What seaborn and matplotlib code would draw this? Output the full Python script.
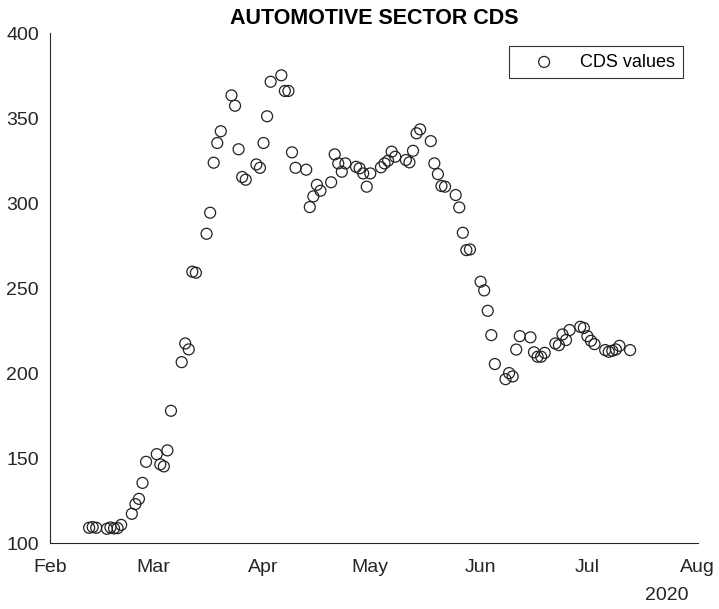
import numpy as np
import pandas as pd
import matplotlib
matplotlib.use("Agg")
import matplotlib.pyplot as plt
import matplotlib.dates as mdates
import seaborn as sns

# Daily (business-day) CDS quotes for the automotive sector, 2020
start_date = "2020-02-12"
end_date = "2020-07-13"

feb_values = [109.2, 109.6, 109.2, 108.6, 109.4, 108.8, 109.0, 110.9, 117.4, 123.1,
              126.2, 135.6, 148.0]
mar_values = [152.5, 146.5, 145.3, 154.7, 178.0, 206.6, 217.6, 214.1, 259.8, 259.2,
              282.1, 294.5, 323.9, 335.5, 342.4, 363.5, 357.4, 331.8, 315.5, 313.9,
              322.9, 320.9]
apr_values = [335.5, 351.2, 371.5, 375.3, 366.1, 366.1, 330.0, 320.9, 319.8, 297.8,
              304.1, 310.9, 307.4, 312.4, 328.8, 323.5, 318.6, 323.5, 321.5, 320.6,
              317.6, 309.8]
may_values = [317.6, 321.2, 323.5, 325.1, 330.4, 327.4, 325.5, 324.1, 330.9, 341.2,
              343.5, 336.6, 323.5, 317.2, 310.2, 309.8, 304.9, 297.6, 282.7, 272.5,
              272.9]
jun_values = [253.9, 248.8, 236.8, 222.5, 205.5, 196.6, 200.2, 198.2, 214.0, 221.9,
              221.2, 212.4, 209.8, 209.8, 212.1, 217.6, 216.6, 222.9, 219.6, 225.5,
              227.4, 226.7]
jul_values = [221.9, 219.2, 217.2, 213.7, 212.7, 213.3, 214.1, 216.2, 213.7]

y_ticks = [100, 150, 200, 250, 300, 350, 400]
month_ticks = ["2020-02-01", "2020-03-01", "2020-04-01", "2020-05-01",
               "2020-06-01", "2020-07-01", "2020-08-01"]

dates = pd.bdate_range(start_date, end_date)
values = feb_values + mar_values + apr_values + may_values + jun_values + jul_values
df = pd.DataFrame({"date": dates, "cds": values})

sns.set_theme(style="white")
plt.rcParams["font.family"] = ["Liberation Sans", "DejaVu Sans"]

axis_color = "#262626"
fig = plt.figure(figsize=(7.19, 6.09), dpi=100)
ax = fig.add_axes([0.0695, 0.1077, 0.9009, 0.8376])

sns.scatterplot(data=df, x="date", y="cds", ax=ax, marker="o", s=62,
                facecolors="none", edgecolor="#222222", linewidth=0.9,
                label="CDS values")

ax.set_xlim(pd.Timestamp(month_ticks[0]), pd.Timestamp(month_ticks[-1]))
ax.set_ylim(y_ticks[0], y_ticks[-1])
ax.set_yticks(y_ticks)
ax.set_xticks([pd.Timestamp(m) for m in month_ticks])
ax.xaxis.set_major_formatter(mdates.DateFormatter("%b"))

ax.set_xlabel("")
ax.set_ylabel("")
ax.set_title("AUTOMOTIVE SECTOR CDS", fontsize=15.5, fontweight="bold",
             color="black", pad=7)

for side in ["top", "right"]:
    ax.spines[side].set_visible(False)
for side in ["left", "bottom"]:
    ax.spines[side].set_color(axis_color)
    ax.spines[side].set_linewidth(0.8)

ax.tick_params(axis="both", direction="in", length=5, width=0.8,
               colors=axis_color, labelsize=14, labelcolor=axis_color)
ax.tick_params(axis="x", pad=11)
ax.tick_params(axis="y", pad=8)

fig.text(688 / 719, 1 - 595 / 609, "2020", ha="right", va="center",
         fontsize=14, color=axis_color)

leg = ax.legend(loc="upper right", bbox_to_anchor=(0.977, 0.975), fontsize=13,
                frameon=True, fancybox=False, edgecolor="black",
                borderaxespad=0, handlelength=3.1, handletextpad=0.45,
                borderpad=0.42, markerscale=1.0)
leg.get_frame().set_linewidth(0.8)
for t in leg.get_texts():
    t.set_color("black")

fig.savefig("out.png", dpi=100, facecolor="white")
